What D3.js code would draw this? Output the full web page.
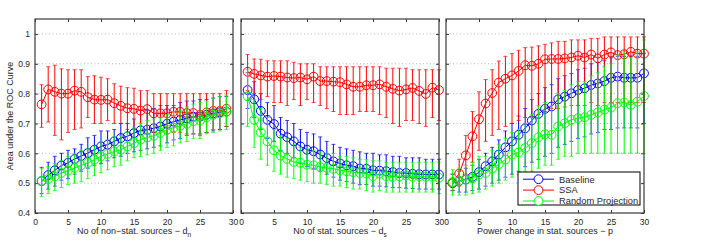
<!DOCTYPE html>
<html>
<head>
<meta charset="utf-8">
<script src="https://cdn.jsdelivr.net/npm/d3@7"></script>
<style>
  body { margin: 0; background: #fff; }
  svg text { font-family: "Liberation Sans", Arial, Helvetica, sans-serif; fill: #262626; }
</style>
</head>
<body>
<div id="chart"></div>
<script>
// ---- data ----
const x29 = [1,2,3,4,5,6,7,8,9,10,11,12,13,14,15,16,17,18,19,20,21,22,23,24,25,26,27,28,29];
const x30 = [1,2,3,4,5,6,7,8,9,10,11,12,13,14,15,16,17,18,19,20,21,22,23,24,25,26,27,28,29,30];
const xTicks = [0,5,10,15,20,25,30];
const yTicks = [0.4,0.5,0.6,0.7,0.8,0.9,1];
const seriesNames = ["Baseline", "SSA", "Random Projection"];
const seriesColors = ["#0000ff", "#ff0000", "#00ff00"];

// panel 1: non-stationary sources
const p1BaseMean = [0.507,0.527,0.543,0.559,0.568,0.581,0.591,0.601,0.612,0.623,0.629,0.64,0.651,0.657,0.668,0.677,0.679,0.684,0.69,0.699,0.706,0.712,0.717,0.723,0.723,0.729,0.734,0.737,0.74];
const p1BaseLo = [0.465,0.48,0.49,0.51,0.515,0.53,0.54,0.55,0.56,0.565,0.575,0.585,0.59,0.6,0.605,0.61,0.615,0.62,0.625,0.635,0.645,0.65,0.66,0.665,0.665,0.67,0.675,0.68,0.69];
const p1BaseHi = [0.553,0.57,0.59,0.6,0.61,0.615,0.63,0.652,0.66,0.675,0.675,0.68,0.7,0.7,0.715,0.745,0.745,0.75,0.76,0.76,0.76,0.77,0.775,0.775,0.78,0.78,0.785,0.79,0.79];
const p1SsaMean = [0.764,0.814,0.806,0.8,0.8,0.81,0.806,0.788,0.78,0.779,0.78,0.768,0.759,0.751,0.749,0.743,0.748,0.734,0.734,0.734,0.739,0.739,0.735,0.735,0.729,0.737,0.742,0.742,0.749];
const p1SsaLo = [0.687,0.705,0.66,0.645,0.67,0.68,0.685,0.72,0.7,0.7,0.71,0.7,0.7,0.68,0.68,0.675,0.68,0.67,0.67,0.665,0.67,0.67,0.665,0.665,0.66,0.67,0.68,0.68,0.69];
const p1SsaHi = [0.83,0.89,0.895,0.883,0.88,0.88,0.88,0.857,0.86,0.855,0.85,0.833,0.825,0.82,0.818,0.81,0.81,0.8,0.8,0.8,0.8,0.8,0.8,0.8,0.8,0.8,0.8,0.8,0.81];
const p1RpMean = [0.507,0.514,0.523,0.534,0.542,0.551,0.56,0.568,0.579,0.59,0.598,0.606,0.612,0.623,0.634,0.646,0.653,0.659,0.668,0.679,0.686,0.692,0.699,0.708,0.71,0.721,0.729,0.734,0.739];
const p1RpLo = [0.455,0.465,0.475,0.485,0.495,0.5,0.505,0.515,0.525,0.535,0.545,0.555,0.56,0.575,0.585,0.59,0.595,0.6,0.61,0.62,0.625,0.635,0.64,0.65,0.65,0.665,0.67,0.675,0.68];
const p1RpHi = [0.55,0.555,0.565,0.575,0.59,0.6,0.61,0.615,0.625,0.64,0.645,0.655,0.66,0.67,0.685,0.7,0.71,0.715,0.72,0.73,0.74,0.745,0.755,0.765,0.77,0.775,0.785,0.79,0.795];

// panel 2: stationary sources
const p2BaseMean = [0.812,0.781,0.742,0.712,0.698,0.666,0.654,0.64,0.623,0.612,0.607,0.596,0.584,0.573,0.566,0.56,0.557,0.549,0.548,0.543,0.542,0.54,0.537,0.534,0.534,0.531,0.53,0.529,0.529,0.529];
const p2BaseLo = [0.75,0.72,0.68,0.65,0.64,0.61,0.6,0.585,0.565,0.555,0.55,0.54,0.53,0.52,0.51,0.505,0.5,0.495,0.495,0.49,0.49,0.488,0.485,0.485,0.483,0.482,0.48,0.48,0.48,0.48];
const p2BaseHi = [0.87,0.84,0.8,0.77,0.76,0.72,0.71,0.7,0.68,0.67,0.665,0.655,0.64,0.63,0.62,0.615,0.61,0.605,0.6,0.6,0.595,0.595,0.59,0.59,0.585,0.585,0.585,0.58,0.58,0.58];
const p2SsaMean = [0.873,0.866,0.861,0.857,0.859,0.857,0.854,0.852,0.854,0.848,0.857,0.842,0.842,0.84,0.838,0.831,0.823,0.823,0.828,0.828,0.831,0.823,0.816,0.81,0.814,0.819,0.809,0.799,0.82,0.812];
const p2SsaLo = [0.81,0.8,0.78,0.79,0.77,0.77,0.76,0.78,0.76,0.78,0.77,0.76,0.75,0.74,0.73,0.73,0.73,0.74,0.74,0.74,0.73,0.72,0.7,0.69,0.71,0.71,0.7,0.69,0.72,0.71];
const p2SsaHi = [0.931,0.916,0.915,0.91,0.91,0.91,0.91,0.905,0.9,0.9,0.9,0.89,0.89,0.89,0.89,0.89,0.89,0.89,0.89,0.89,0.89,0.885,0.885,0.885,0.885,0.88,0.88,0.88,0.88,0.88];
const p2RpMean = [0.791,0.712,0.67,0.64,0.61,0.592,0.581,0.571,0.568,0.562,0.56,0.554,0.551,0.548,0.543,0.54,0.537,0.534,0.532,0.523,0.532,0.523,0.521,0.523,0.526,0.521,0.523,0.521,0.521,0.518];
const p2RpLo = [0.69,0.62,0.58,0.56,0.54,0.53,0.52,0.515,0.51,0.505,0.5,0.5,0.495,0.49,0.49,0.485,0.48,0.48,0.475,0.47,0.475,0.47,0.47,0.47,0.47,0.47,0.47,0.47,0.47,0.465];
const p2RpHi = [0.88,0.78,0.75,0.72,0.68,0.66,0.65,0.63,0.62,0.615,0.61,0.605,0.6,0.6,0.59,0.59,0.585,0.58,0.58,0.575,0.575,0.57,0.57,0.57,0.57,0.57,0.57,0.57,0.57,0.57];

// panel 3: power change
const p3BaseMean = [0.5,0.507,0.512,0.521,0.537,0.557,0.573,0.596,0.62,0.64,0.662,0.684,0.71,0.732,0.749,0.757,0.781,0.79,0.801,0.812,0.818,0.829,0.834,0.842,0.853,0.857,0.853,0.853,0.853,0.868];
const p3BaseLo = [0.475,0.47,0.47,0.475,0.48,0.49,0.5,0.51,0.52,0.53,0.54,0.555,0.57,0.58,0.59,0.6,0.62,0.63,0.64,0.65,0.655,0.665,0.67,0.68,0.68,0.685,0.685,0.685,0.685,0.7];
const p3BaseHi = [0.53,0.54,0.55,0.56,0.58,0.6,0.62,0.645,0.675,0.7,0.725,0.75,0.78,0.8,0.82,0.83,0.85,0.86,0.867,0.88,0.885,0.9,0.905,0.91,0.92,0.925,0.925,0.925,0.925,0.935];
const p3SsaMean = [0.503,0.532,0.593,0.657,0.714,0.767,0.802,0.837,0.85,0.861,0.876,0.895,0.893,0.9,0.915,0.916,0.916,0.918,0.921,0.927,0.921,0.931,0.918,0.931,0.938,0.929,0.932,0.94,0.934,0.934];
const p3SsaLo = [0.475,0.49,0.53,0.57,0.61,0.64,0.66,0.68,0.69,0.7,0.71,0.72,0.72,0.73,0.74,0.75,0.75,0.755,0.76,0.76,0.76,0.77,0.76,0.77,0.77,0.77,0.77,0.77,0.77,0.77];
const p3SsaHi = [0.53,0.58,0.66,0.74,0.806,0.847,0.88,0.909,0.925,0.934,0.945,0.954,0.956,0.96,0.965,0.97,0.975,0.975,0.98,0.98,0.98,0.985,0.985,0.99,0.99,0.99,0.99,0.99,0.99,0.99];
const p3RpMean = [0.503,0.507,0.512,0.516,0.529,0.534,0.549,0.564,0.579,0.596,0.603,0.618,0.634,0.654,0.664,0.662,0.69,0.701,0.712,0.718,0.721,0.729,0.737,0.746,0.753,0.768,0.77,0.762,0.773,0.792];
const p3RpLo = [0.46,0.46,0.46,0.465,0.47,0.48,0.49,0.5,0.51,0.52,0.53,0.54,0.54,0.55,0.56,0.56,0.58,0.59,0.59,0.6,0.6,0.6,0.6,0.6,0.6,0.6,0.6,0.6,0.6,0.6];
const p3RpHi = [0.545,0.55,0.56,0.57,0.59,0.59,0.61,0.63,0.65,0.67,0.68,0.7,0.73,0.76,0.77,0.76,0.8,0.81,0.83,0.84,0.84,0.86,0.87,0.89,0.9,0.93,0.94,0.92,0.94,0.98];

// ---- layout ----
const W = 708, H = 242;
const plotTop = 19, plotBottom = 213;

const panels = [
  { left: 35, right: 233, xs: x29, labelMain: "No of non\u2212stat. sources \u2212 d", sub: "n", yLabels: true,
    series: [[p1BaseMean, p1BaseLo, p1BaseHi], [p1SsaMean, p1SsaLo, p1SsaHi], [p1RpMean, p1RpLo, p1RpHi]] },
  { left: 241, right: 439, xs: x30, labelMain: "No of stat. sources \u2212 d", sub: "s", yLabels: false,
    series: [[p2BaseMean, p2BaseLo, p2BaseHi], [p2SsaMean, p2SsaLo, p2SsaHi], [p2RpMean, p2RpLo, p2RpHi]] },
  { left: 446, right: 644, xs: x30, labelMain: "Power change in stat. sources \u2212 p", sub: null, yLabels: false,
    series: [[p3BaseMean, p3BaseLo, p3BaseHi], [p3SsaMean, p3SsaLo, p3SsaHi], [p3RpMean, p3RpLo, p3RpHi]] }
];

const svg = d3.select("#chart").append("svg")
  .attr("width", W).attr("height", H);

const y = d3.scaleLinear().domain([0.4, 1.05]).range([plotBottom, plotTop]);

panels.forEach(function (p, pi) {
  const x = d3.scaleLinear().domain([0, 30]).range([p.left, p.right]);
  const g = svg.append("g");

  // dotted grid lines
  g.selectAll("line.grid")
    .data(yTicks.filter(d => d > 0.4))
    .enter().append("line")
    .attr("class", "grid")
    .attr("x1", p.left).attr("x2", p.right)
    .attr("y1", d => y(d)).attr("y2", d => y(d))
    .attr("stroke", "#b5b5b5").attr("stroke-width", 1)
    .attr("stroke-dasharray", "1,2.5");

  // axes with inward ticks on all four sides
  const ax = [
    g.append("g").attr("transform", `translate(0,${plotBottom})`)
      .call(d3.axisBottom(x).tickValues(xTicks).tickSize(-3).tickPadding(6)),
    g.append("g").attr("transform", `translate(0,${plotTop})`)
      .call(d3.axisTop(x).tickValues(xTicks).tickSize(-3).tickFormat("")),
    g.append("g").attr("transform", `translate(${p.left},0)`)
      .call(d3.axisLeft(y).tickValues(yTicks).tickSize(-3).tickPadding(5)
        .tickFormat(p.yLabels ? d3.format("") : "")),
    g.append("g").attr("transform", `translate(${p.right},0)`)
      .call(d3.axisRight(y).tickValues(yTicks).tickSize(-3).tickFormat(""))
  ];
  ax.forEach(a => {
    a.select(".domain").remove();
    a.selectAll(".tick line").attr("stroke", "#333");
    a.selectAll("text").attr("font-size", "8.5px").attr("fill", "#262626");
  });

  // series: error bars, line, circles
  p.series.forEach(function (s, si) {
    const color = seriesColors[si];
    const pts = p.xs.map((xv, i) => ({ x: xv, m: s[0][i], lo: s[1][i], hi: s[2][i] }));
    const sg = g.append("g");

    sg.selectAll("line.bar").data(pts).enter().append("line")
      .attr("x1", d => x(d.x)).attr("x2", d => x(d.x))
      .attr("y1", d => y(d.lo)).attr("y2", d => y(d.hi))
      .attr("stroke", color).attr("stroke-width", 1);
    sg.selectAll("line.capHi").data(pts).enter().append("line")
      .attr("x1", d => x(d.x) - 2).attr("x2", d => x(d.x) + 2)
      .attr("y1", d => y(d.hi)).attr("y2", d => y(d.hi))
      .attr("stroke", color).attr("stroke-width", 1).attr("opacity", 0.7);
    sg.selectAll("line.capLo").data(pts).enter().append("line")
      .attr("x1", d => x(d.x) - 2).attr("x2", d => x(d.x) + 2)
      .attr("y1", d => y(d.lo)).attr("y2", d => y(d.lo))
      .attr("stroke", color).attr("stroke-width", 1).attr("opacity", 0.7);

    sg.append("path").datum(pts)
      .attr("fill", "none").attr("stroke", color).attr("stroke-width", 1)
      .attr("d", d3.line().x(d => x(d.x)).y(d => y(d.m)));

    sg.selectAll("circle").data(pts).enter().append("circle")
      .attr("cx", d => x(d.x)).attr("cy", d => y(d.m)).attr("r", 4.4)
      .attr("fill", "none").attr("stroke", color).attr("stroke-width", 1);
  });

  // frame
  g.append("rect")
    .attr("x", p.left).attr("y", plotTop)
    .attr("width", p.right - p.left).attr("height", plotBottom - plotTop)
    .attr("fill", "none").attr("stroke", "#3a3a3a").attr("stroke-width", 1.2);

  // x label
  const xl = g.append("text")
    .attr("x", (p.left + p.right) / 2).attr("y", 234)
    .attr("text-anchor", "middle").attr("font-size", "9px");
  xl.append("tspan").text(p.labelMain);
  if (p.sub) xl.append("tspan").attr("dy", 2.5).attr("font-size", "6.5px").text(p.sub);
});

// y label
svg.append("text")
  .attr("transform", `translate(13,${(plotTop + plotBottom) / 2}) rotate(-90)`)
  .attr("text-anchor", "middle").attr("font-size", "9px")
  .text("Area under the ROC Curve");

// legend in panel 3
const lg = svg.append("g").attr("transform", "translate(518,172)");
lg.append("rect").attr("width", 122).attr("height", 33)
  .attr("fill", "#fff").attr("stroke", "#000").attr("stroke-width", 1);
seriesNames.forEach(function (name, i) {
  const ly = 7.2 + i * 10.9;
  lg.append("line").attr("x1", 5).attr("x2", 36).attr("y1", ly).attr("y2", ly)
    .attr("stroke", seriesColors[i]).attr("stroke-width", 1);
  lg.append("circle").attr("cx", 20.5).attr("cy", ly).attr("r", 4.4)
    .attr("fill", "#fff").attr("stroke", seriesColors[i]).attr("stroke-width", 1);
  lg.append("text").attr("x", 41).attr("y", ly + 3.3).attr("font-size", "9.3px").text(name);
});
</script>
</body>
</html>
